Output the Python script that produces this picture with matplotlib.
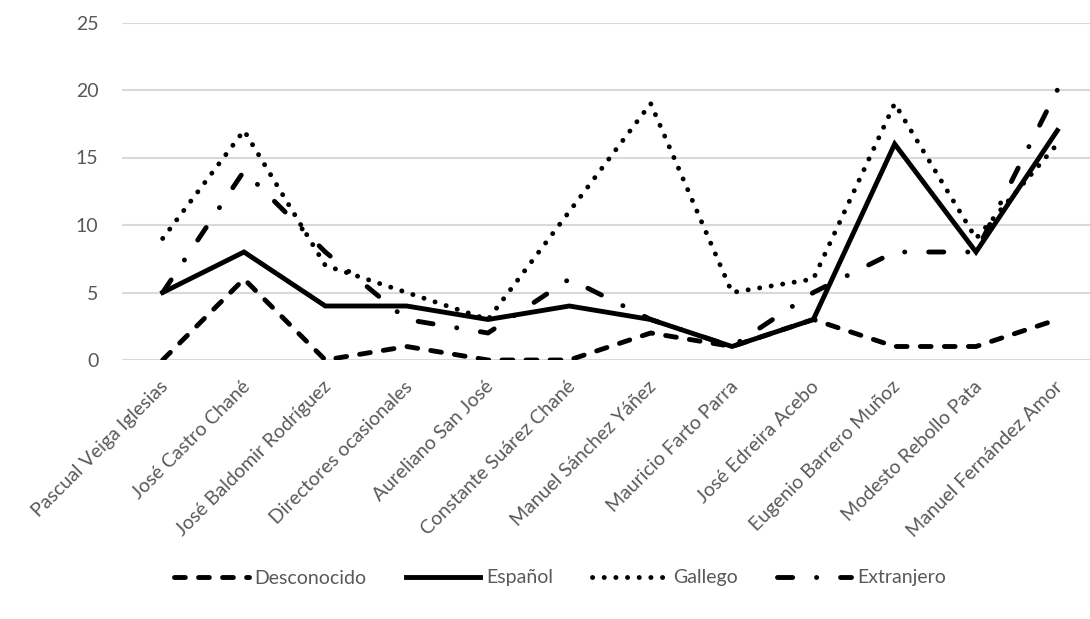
import matplotlib
matplotlib.use("Agg")
import matplotlib.pyplot as plt
import matplotlib.transforms as mtransforms

plt.rcParams['font.family'] = ['Lato', 'DejaVu Sans']
plt.rcParams['lines.scale_dashes'] = False

categories = ["Pascual Veiga Iglesias", "José Castro Chané", "José Baldomir Rodríguez",
              "Directores ocasionales", "Aureliano San José", "Constante Suárez Chané",
              "Manuel Sánchez Yáñez", "Mauricio Farto Parra", "José Edreira Acebo",
              "Eugenio Barrero Muñoz", "Modesto Rebollo Pata", "Manuel Fernández Amor"]
desconocido = [0, 6, 0, 1, 0, 0, 2, 1, 3, 1, 1, 3]
espanol = [5, 8, 4, 4, 3, 4, 3, 1, 3, 16, 8, 17]
gallego = [9, 17, 7, 5, 3, 11, 19, 5, 6, 19, 9, 16]
extranjero = [5, 14, 8, 3, 2, 6, 3, 1, 5, 8, 8, 20]
yticks = [0, 5, 10, 15, 20, 25]

fig = plt.figure(figsize=(10.9, 6.19), dpi=100)
ax = fig.add_axes([122/1090, 1-360/619, (1098-122)/1090, (360-22.5)/619])

x = list(range(len(categories)))
lw = 3.5
l1, = ax.plot(x, desconocido, color='black', lw=lw, dash_capstyle='round',
              solid_capstyle='round', dashes=(7.8, 9.5), label='Desconocido')
l2, = ax.plot(x, espanol, color='black', lw=lw, solid_joinstyle='miter', label='Español')
l3, = ax.plot(x, gallego, color='black', lw=lw, dash_capstyle='round',
              dashes=(0.1, 8.3), label='Gallego')
l4, = ax.plot(x, extranjero, color='black', lw=lw, dash_capstyle='round',
              dashes=(10.9, 17.2, 0.1, 17.2), label='Extranjero')

ax.set_xlim(-0.5, 11.5)
ax.set_ylim(0, 25)
ax.set_yticks(yticks)
ax.grid(axis='y', color='#d9d9d9', lw=1.5)
ax.set_axisbelow(True)
for s in ax.spines.values():
    s.set_visible(False)
ax.tick_params(axis='both', length=0, colors='#595959', labelsize=14)
ax.tick_params(axis='y', pad=17, labelsize=14)
ax.set_xticks(x)
ax.set_xticklabels(categories, rotation=45, ha='right', va='top', rotation_mode='anchor')
ax.tick_params(axis='x', pad=13)
off = mtransforms.ScaledTranslation(-3/100, 0, fig.dpi_scale_trans)
for lab in ax.get_xticklabels():
    lab.set_transform(lab.get_transform() + off)

leg = fig.legend(handles=[l1, l2, l3, l4], loc='center', bbox_to_anchor=(560/1090, 1-578/619),
                 ncol=4, frameon=False, fontsize=14, handlelength=3.85, columnspacing=2.0,
                 handletextpad=0.3)
for t in leg.get_texts():
    t.set_color('#595959')

fig.savefig('out.png', dpi=100)
